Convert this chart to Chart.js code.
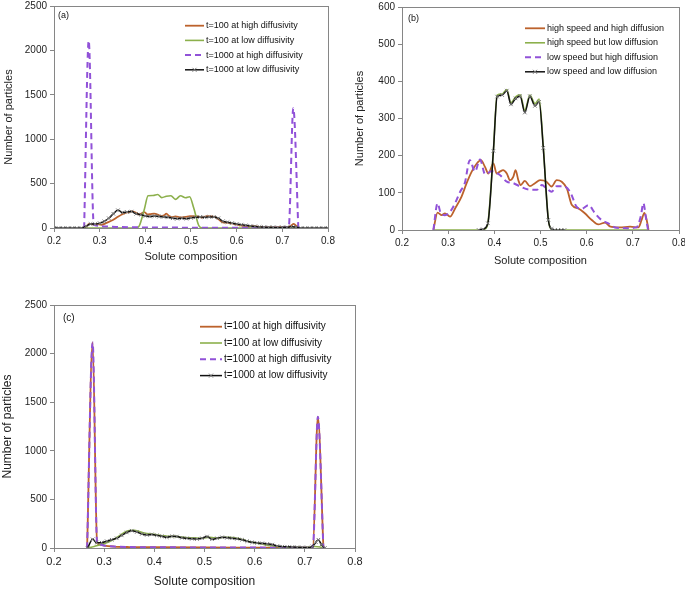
<!DOCTYPE html>
<html>
<head>
<meta charset="utf-8">
<script src="https://cdn.jsdelivr.net/npm/chart.js@4"></script>
<style>
  body { margin: 0; background: #fff; }
  canvas { position: absolute; }
</style>
</head>
<body>
<canvas id="chartA" width="340" height="268" style="left:0px;top:0px"></canvas>
<canvas id="chartB" width="345" height="272" style="left:340px;top:0px"></canvas>
<canvas id="chartC" width="370" height="299" style="left:0px;top:290px"></canvas>
<script>
// tick values
const xTicks = [0.2, 0.3, 0.4, 0.5, 0.6, 0.7, 0.8];
const yTicksBig = [0, 500, 1000, 1500, 2000, 2500];
const yTicksSmall = [0, 100, 200, 300, 400, 500, 600];

// (b) high speed and high diffusion  (same curve as (a) t=100 at high diffusivity)
const highHighX = [0.268, 0.277, 0.286, 0.293, 0.304, 0.315, 0.329, 0.340, 0.351, 0.362, 0.371, 0.380, 0.387, 0.398, 0.405, 0.412, 0.419, 0.427, 0.434, 0.441, 0.446, 0.452, 0.457, 0.466, 0.477, 0.488, 0.499, 0.513, 0.524, 0.535, 0.546, 0.557, 0.568, 0.582, 0.596, 0.611, 0.625, 0.640, 0.650, 0.672, 0.694, 0.712, 0.719, 0.725, 0.730, 0.734];
const highHighY = [0, 47, 40, 45, 36, 58, 90, 126, 157, 179, 188, 169, 152, 179, 152, 157, 161, 152, 134, 143, 161, 134, 121, 132, 118, 126, 134, 130, 117, 134, 130, 112, 67, 58, 45, 27, 15, 20, 10, 7, 9, 7, 27, 46, 27, 0];

// (b) high speed but low diffusion  (same curve as (a) t=100 at low diffusivity)
const highLowX = [0.268, 0.370, 0.380, 0.386, 0.398, 0.406, 0.417, 0.427, 0.436, 0.446, 0.456, 0.466, 0.477, 0.488, 0.497, 0.506, 0.517, 0.524, 0.530, 0.733];
const highLowY = [0, 0, 3, 18, 215, 363, 366, 378, 342, 358, 364, 322, 363, 340, 352, 224, 28, 2, 0, 0];

// (b) low speed but high diffusion
const lowHighX = [0.268, 0.277, 0.284, 0.293, 0.304, 0.315, 0.326, 0.336, 0.347, 0.358, 0.369, 0.380, 0.394, 0.412, 0.427, 0.441, 0.456, 0.474, 0.492, 0.503, 0.513, 0.524, 0.535, 0.549, 0.564, 0.578, 0.589, 0.604, 0.618, 0.632, 0.647, 0.661, 0.687, 0.708, 0.717, 0.723, 0.728, 0.733];
const lowHighY = [0, 72, 45, 40, 49, 72, 103, 126, 188, 157, 190, 150, 158, 148, 130, 126, 117, 109, 108, 121, 112, 103, 118, 118, 103, 63, 57, 67, 45, 27, 18, 7, 5, 7, 36, 72, 36, 0];

// (b) low speed and low diffusion
const lowLowX = [0.366, 0.375, 0.386, 0.398, 0.406, 0.417, 0.427, 0.436, 0.446, 0.456, 0.466, 0.477, 0.488, 0.497, 0.506, 0.517, 0.524, 0.531, 0.538, 0.545, 0.552];
const lowLowY = [0, 2, 18, 213, 359, 363, 375, 338, 354, 360, 316, 360, 334, 345, 221, 27, 3, 0, 0, 0, 0];

// (a) t=1000 at high diffusivity
const aSpikeX = [0.266, 0.276, 0.287, 0.295, 0.31, 0.34, 0.4, 0.5, 0.6, 0.7, 0.714, 0.724, 0.735];
const aSpikeY = [0, 2110, 40, 25, 18, 12, 6, 4, 3, 3, 10, 1350, 0];

// (a) t=1000 at low diffusivity
const aLowX = [0.20, 0.21, 0.22, 0.23, 0.24, 0.25, 0.26, 0.27, 0.28, 0.29, 0.30, 0.31, 0.32, 0.33, 0.34, 0.35, 0.36, 0.37, 0.38, 0.39, 0.40, 0.41, 0.42, 0.43, 0.44, 0.45, 0.46, 0.47, 0.48, 0.49, 0.50, 0.51, 0.52, 0.53, 0.54, 0.55, 0.56, 0.57, 0.58, 0.59, 0.60, 0.61, 0.62, 0.63, 0.64, 0.65, 0.66, 0.67, 0.68, 0.69, 0.70, 0.71, 0.72, 0.73, 0.74, 0.75, 0.76, 0.77, 0.78, 0.79, 0.80];
const aLowY = [0, 0, 0, 0, 0, 0, 0, 20, 45, 45, 55, 75, 110, 160, 200, 175, 180, 185, 160, 150, 135, 130, 135, 130, 125, 120, 110, 105, 110, 105, 115, 120, 125, 120, 125, 125, 110, 75, 65, 55, 45, 38, 30, 22, 18, 12, 10, 8, 8, 6, 8, 8, 15, 10, 0, 0, 0, 0, 0, 0, 0];

// (c) t=100 and t=1000 at high diffusivity (the two curves overlap)
const cSpikeX = [0.266, 0.277, 0.286, 0.29, 0.30, 0.32, 0.35, 0.40, 0.50, 0.60, 0.70, 0.716, 0.726, 0.737];
const cSpikeY = [0, 2115, 50, 38, 25, 15, 10, 8, 5, 4, 3, 10, 1350, 0];

// (c) t=100 at low diffusivity
const cLowX = [0.267, 0.28, 0.29, 0.30, 0.31, 0.32, 0.33, 0.34, 0.35, 0.36, 0.37, 0.38, 0.39, 0.40, 0.41, 0.42, 0.43, 0.44, 0.45, 0.46, 0.47, 0.48, 0.49, 0.50, 0.51, 0.52, 0.53, 0.54, 0.55, 0.56, 0.57, 0.58, 0.59, 0.60, 0.61, 0.62, 0.63, 0.64, 0.65, 0.66, 0.67, 0.68, 0.69, 0.70, 0.71, 0.72, 0.73, 0.737];
const cLowY = [0, 15, 30, 45, 65, 90, 125, 160, 180, 182, 170, 155, 145, 140, 130, 125, 120, 120, 115, 110, 105, 105, 100, 105, 110, 105, 105, 110, 110, 105, 95, 80, 65, 55, 45, 35, 25, 18, 12, 8, 6, 5, 5, 5, 8, 15, 10, 0];

// (c) t=1000 at low diffusivity
const cLow1000X = [0.267, 0.277, 0.285, 0.295, 0.305, 0.315, 0.325, 0.335, 0.345, 0.355, 0.365, 0.375, 0.385, 0.395, 0.405, 0.415, 0.425, 0.435, 0.445, 0.455, 0.465, 0.475, 0.485, 0.495, 0.505, 0.515, 0.525, 0.535, 0.545, 0.555, 0.565, 0.575, 0.585, 0.595, 0.605, 0.615, 0.625, 0.635, 0.645, 0.655, 0.665, 0.675, 0.685, 0.695, 0.705, 0.715, 0.722, 0.727, 0.733, 0.74];
const cLow1000Y = [0, 89, 55, 55, 70, 85, 100, 130, 160, 178, 165, 145, 135, 140, 130, 120, 110, 120, 118, 105, 100, 95, 92, 100, 118, 90, 100, 110, 105, 100, 95, 85, 70, 58, 52, 48, 42, 35, 20, 14, 12, 10, 8, 6, 5, 15, 60, 85, 35, 0];

const labelsA = ["t=100 at high diffusivity", "t=100 at low diffusivity", "t=1000 at high diffusivity", "t=1000 at low diffusivity"];
const labelsB = ["high speed and high diffusion", "high speed but low diffusion", "low speed but high diffusion", "low speed and low diffusion"];

Chart.defaults.font.family = "'Liberation Sans', Arial, sans-serif";
Chart.defaults.color = "#222";

const pts = (xs, ys) => xs.map((x, i) => ({ x: x, y: ys[i] }));

const BROWN = "#BC622C", GREEN = "#8CB04C", PURPLE = "#9152D8", AXIS = "#868686";

function brown(label, xs, ys) {
  return { label, data: pts(xs, ys), borderColor: BROWN, borderWidth: 1.8, pointRadius: 0, order: 4 };
}
function green(label, xs, ys) {
  return { label, data: pts(xs, ys), borderColor: GREEN, borderWidth: 1.6, pointRadius: 0, order: 3 };
}
function purple(label, xs, ys) {
  return { label, data: pts(xs, ys), borderColor: PURPLE, borderWidth: 2, borderDash: [6, 4], pointRadius: 0, order: 2 };
}
function black(label, xs, ys) {
  return {
    label, data: pts(xs, ys), borderColor: "#111", borderWidth: 1.5, order: 1,
    pointStyle: "crossRot", pointRadius: 2.5, pointBorderColor: "#7a7a7a", pointBorderWidth: 1,
  };
}

// box round the plot area
const plotBox = {
  id: "plotBox",
  beforeDatasetsDraw(chart) {
    const a = chart.chartArea, ctx = chart.ctx;
    ctx.save();
    ctx.strokeStyle = AXIS;
    ctx.lineWidth = 1;
    ctx.strokeRect(Math.round(a.left) + 0.5, Math.round(a.top) + 0.5, Math.round(a.right - a.left), Math.round(a.bottom - a.top));
    ctx.restore();
  },
};

// legend + panel tag inside the plot area
const panelLegend = {
  id: "panelLegend",
  afterDraw(chart, args, o) {
    const ctx = chart.ctx;
    ctx.save();
    ctx.fillStyle = "#111";
    ctx.textBaseline = "middle";
    ctx.font = o.size + "px 'Liberation Sans', Arial, sans-serif";
    ctx.fillText(o.tag, o.tagX, o.tagY);
    chart.data.datasets.forEach((ds, i) => {
      const y = o.y + i * o.rowH;
      ctx.strokeStyle = ds.borderColor;
      ctx.lineWidth = ds.borderWidth;
      ctx.setLineDash(ds.borderDash || []);
      ctx.beginPath();
      ctx.moveTo(o.x, y);
      ctx.lineTo(o.x + o.len, y);
      ctx.stroke();
      ctx.setLineDash([]);
      if (ds.pointStyle === "crossRot") {
        const cx = o.x + o.len / 2, r = 2;
        ctx.strokeStyle = ds.pointBorderColor;
        ctx.lineWidth = 1;
        ctx.beginPath();
        ctx.moveTo(cx - r, y - r); ctx.lineTo(cx + r, y + r);
        ctx.moveTo(cx + r, y - r); ctx.lineTo(cx - r, y + r);
        ctx.stroke();
      }
      ctx.fillText(ds.label, o.x + o.len + 2, y);
    });
    ctx.restore();
  },
};

function makeChart(id, datasets, cfg) {
  return new Chart(document.getElementById(id), {
    type: "line",
    data: { datasets },
    options: {
      responsive: false,
      animation: false,
      cubicInterpolationMode: "monotone",
      layout: { padding: cfg.padding },
      plugins: {
        legend: { display: false },
        tooltip: { enabled: false },
        panelLegend: cfg.legend,
      },
      scales: {
        x: {
          type: "linear",
          min: 0.2,
          max: 0.8,
          afterBuildTicks: (s) => { s.ticks = xTicks.map((v) => ({ value: v })); },
          afterFit: (s) => { s.height = cfg.xHeight; s.paddingLeft = 0; s.paddingRight = 0; },
          ticks: { autoSkip: false, maxRotation: 0, padding: 3, font: { size: cfg.xTickSize }, callback: (v) => v.toFixed(1) },
          grid: { drawOnChartArea: false, drawTicks: true, tickLength: 4, color: AXIS },
          border: { color: AXIS },
          title: { display: true, text: "Solute composition", font: { size: cfg.titleSize }, padding: { top: 0, bottom: cfg.xTitlePad } },
        },
        y: {
          min: 0,
          max: cfg.yMax,
          afterBuildTicks: (s) => { s.ticks = cfg.yTicks.map((v) => ({ value: v })); },
          afterFit: (s) => { s.width = cfg.yWidth; s.paddingTop = 0; s.paddingBottom = 0; },
          ticks: { autoSkip: false, padding: 3, font: { size: 10 }, callback: (v) => String(v) },
          grid: { drawOnChartArea: false, drawTicks: true, tickLength: 4, color: AXIS },
          border: { color: AXIS },
          title: { display: true, text: "Number of particles", font: { size: cfg.titleSize }, padding: { top: cfg.yTitlePad, bottom: 0 } },
        },
      },
    },
    plugins: [plotBox, panelLegend],
  });
}

makeChart("chartA", [
  brown(labelsA[0], highHighX, highHighY),
  green(labelsA[1], highLowX, highLowY),
  purple(labelsA[2], aSpikeX, aSpikeY),
  black(labelsA[3], aLowX, aLowY),
], {
  padding: { left: 0, right: 12, top: 6, bottom: 0 },
  yWidth: 54, xHeight: 40, yMax: 2500, yTicks: yTicksBig, xTickSize: 10,
  titleSize: 11, xTitlePad: 4, yTitlePad: 2.5,
  legend: { tag: "(a)", tagX: 58, tagY: 16, x: 185, y: 25.7, rowH: 14.7, len: 19, size: 9 },
});

makeChart("chartB", [
  brown(labelsB[0], highHighX, highHighY),
  green(labelsB[1], highLowX, highLowY),
  purple(labelsB[2], lowHighX, lowHighY),
  black(labelsB[3], lowLowX, lowLowY),
], {
  padding: { left: 11, right: 6, top: 7, bottom: 0 },
  yWidth: 51, xHeight: 42, yMax: 600, yTicks: yTicksSmall, xTickSize: 10,
  titleSize: 11, xTitlePad: 4, yTitlePad: 2.5,
  legend: { tag: "(b)", tagX: 68, tagY: 19, x: 185, y: 28.3, rowH: 14.5, len: 20, size: 9 },
});

makeChart("chartC", [
  brown(labelsA[0], cSpikeX, cSpikeY),
  green(labelsA[1], cLowX, cLowY),
  purple(labelsA[2], cSpikeX, cSpikeY),
  black(labelsA[3], cLow1000X, cLow1000Y),
], {
  padding: { left: 0, right: 15, top: 15, bottom: 0 },
  yWidth: 54, xHeight: 41, yMax: 2500, yTicks: yTicksBig, xTickSize: 11,
  titleSize: 12, xTitlePad: 0, yTitlePad: 0,
  legend: { tag: "(c)", tagX: 63, tagY: 28, x: 200, y: 36.7, rowH: 16.3, len: 22, size: 10 },
});
</script>
</body>
</html>
